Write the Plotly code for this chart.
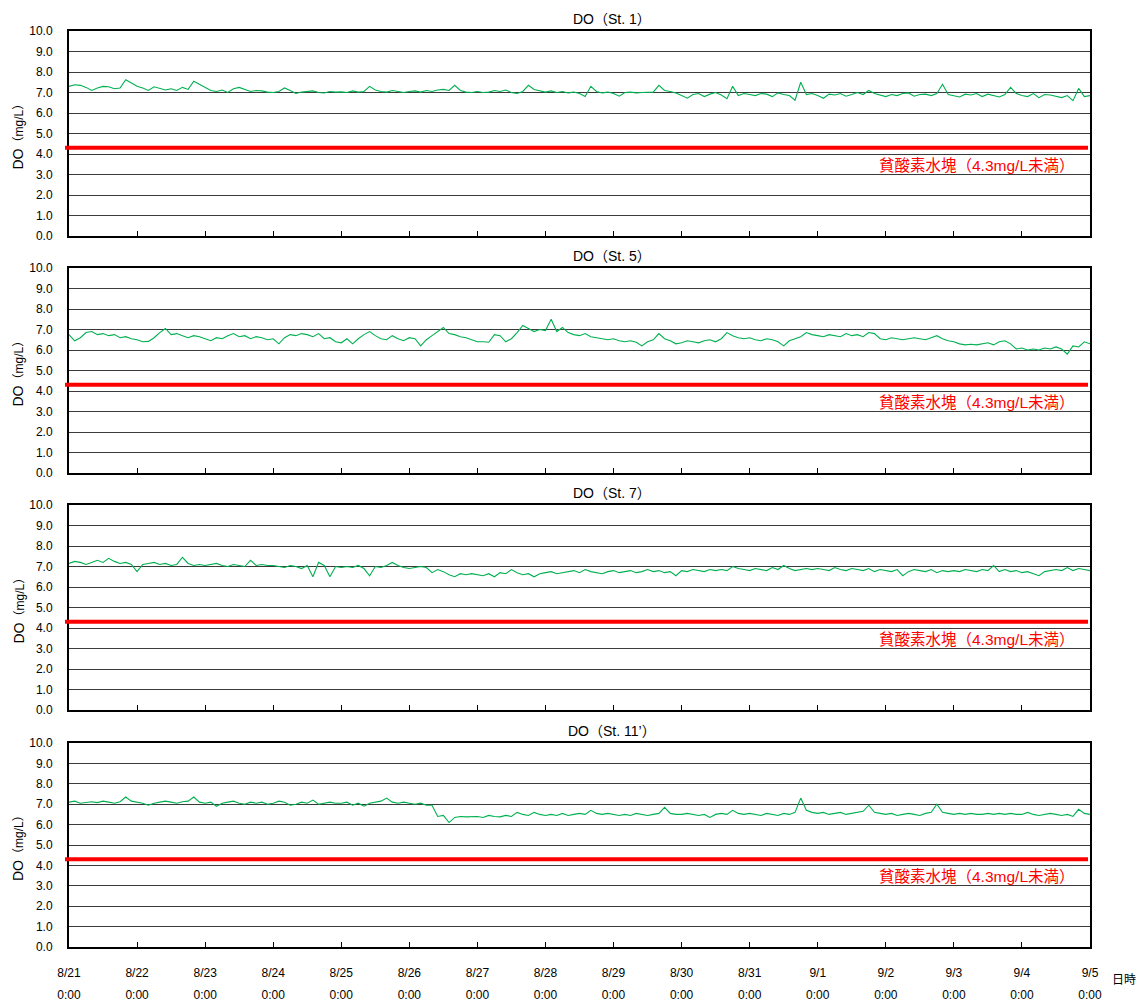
import pandas as pd
import plotly.graph_objects as go

# ---------------- data (2-hourly, 8/21 0:00 -> 9/5 0:00) ----------------
st1 = [
    7.30, 7.38, 7.35, 7.25, 7.10, 7.22, 7.30, 7.28, 7.18, 7.22, 7.62, 7.45,
    7.30, 7.22, 7.10, 7.28, 7.20, 7.12, 7.18, 7.10, 7.25, 7.15, 7.55, 7.40,
    7.25, 7.10, 7.05, 7.12, 7.00, 7.18, 7.25, 7.15, 7.05, 7.10, 7.08, 7.02,
    7.00, 7.05, 7.22, 7.10, 6.95, 7.02, 7.05, 7.08, 7.00, 6.98, 7.05, 7.02,
    7.03, 7.00, 7.08, 7.02, 7.05, 7.30, 7.12, 7.05, 7.02, 7.10, 7.05, 7.00,
    7.05, 7.08, 7.02, 7.10, 7.05, 7.12, 7.15, 7.10, 7.35, 7.10, 7.02, 7.00,
    7.05, 7.00, 7.02, 7.10, 7.05, 7.12, 7.00, 6.95, 7.05, 7.35, 7.15, 7.10,
    7.02, 7.08, 7.00, 7.05, 6.98, 7.02, 6.95, 6.80, 7.30, 7.05, 6.98, 7.02,
    6.95, 6.82, 7.00, 7.02, 6.98, 7.00, 7.00, 7.02, 7.35, 7.10, 7.05, 6.98,
    6.85, 6.72, 6.90, 6.95, 6.80, 6.92, 7.00, 6.88, 6.70, 7.30, 6.85, 6.95,
    6.90, 6.85, 6.95, 6.92, 6.80, 6.98, 6.90, 6.85, 6.62, 7.50, 6.90, 6.95,
    6.85, 6.72, 6.92, 6.88, 6.95, 6.82, 6.90, 7.00, 6.90, 7.10, 6.95, 6.88,
    6.80, 6.90, 6.85, 6.95, 6.98, 6.82, 6.90, 6.92, 6.85, 6.95, 7.40, 6.90,
    6.85, 6.78, 6.92, 6.88, 6.95, 6.80, 6.92, 6.85, 6.78, 6.90, 7.25, 6.95,
    6.85, 6.80, 6.95, 6.75, 6.90, 6.88, 6.80, 6.75, 6.85, 6.60, 7.20, 6.80,
    6.85,
]
st5 = [
    6.75, 6.45, 6.60, 6.85, 6.90, 6.75, 6.80, 6.70, 6.75, 6.60, 6.65, 6.55,
    6.50, 6.40, 6.42, 6.60, 6.85, 7.05, 6.75, 6.80, 6.70, 6.60, 6.70, 6.65,
    6.55, 6.45, 6.60, 6.55, 6.70, 6.80, 6.65, 6.70, 6.55, 6.65, 6.60, 6.50,
    6.55, 6.30, 6.60, 6.75, 6.70, 6.80, 6.75, 6.65, 6.80, 6.55, 6.60, 6.40,
    6.35, 6.55, 6.30, 6.55, 6.75, 6.90, 6.70, 6.55, 6.50, 6.70, 6.55, 6.45,
    6.60, 6.55, 6.20, 6.50, 6.70, 6.90, 7.10, 6.80, 6.75, 6.65, 6.60, 6.50,
    6.40, 6.40, 6.38, 6.75, 6.70, 6.40, 6.55, 6.85, 7.20, 7.05, 6.90, 7.00,
    6.95, 7.50, 6.90, 7.10, 6.85, 6.75, 6.70, 6.80, 6.65, 6.60, 6.55, 6.50,
    6.55, 6.45, 6.40, 6.45, 6.38, 6.20, 6.40, 6.50, 6.80, 6.55, 6.45, 6.30,
    6.35, 6.45, 6.40, 6.35, 6.45, 6.50, 6.40, 6.55, 6.85, 6.70, 6.60, 6.55,
    6.60, 6.50, 6.45, 6.55, 6.50, 6.40, 6.20, 6.45, 6.55, 6.65, 6.85, 6.75,
    6.70, 6.65, 6.75, 6.70, 6.65, 6.80, 6.70, 6.75, 6.65, 6.85, 6.80, 6.55,
    6.50, 6.60, 6.55, 6.50, 6.55, 6.60, 6.55, 6.50, 6.60, 6.70, 6.55, 6.45,
    6.40, 6.30, 6.25, 6.28, 6.25, 6.30, 6.35, 6.25, 6.40, 6.45, 6.30, 6.05,
    6.10, 6.00, 6.05, 6.00, 6.10, 6.05, 6.15, 6.05, 5.80, 6.20, 6.15, 6.40,
    6.30,
]
st7 = [
    7.15, 7.25, 7.20, 7.10, 7.20, 7.30, 7.20, 7.40, 7.25, 7.15, 7.20, 7.10,
    6.75, 7.10, 7.15, 7.20, 7.10, 7.15, 7.05, 7.10, 7.45, 7.15, 7.05, 7.10,
    7.05, 7.10, 7.15, 7.05, 7.00, 7.10, 7.05, 7.00, 7.30, 7.05, 7.10, 7.05,
    7.05, 7.00, 6.95, 7.05, 7.00, 6.90, 7.05, 6.50, 7.20, 7.05, 6.50, 7.00,
    6.95, 7.00, 6.95, 7.05, 6.90, 6.55, 7.00, 6.95, 7.05, 7.20, 7.05, 6.95,
    6.90, 6.95, 7.00, 6.95, 6.70, 6.85, 6.75, 6.60, 6.50, 6.65, 6.60, 6.65,
    6.60, 6.55, 6.65, 6.50, 6.70, 6.65, 6.85, 6.70, 6.60, 6.65, 6.50, 6.65,
    6.70, 6.75, 6.65, 6.70, 6.75, 6.80, 6.70, 6.85, 6.75, 6.70, 6.65, 6.75,
    6.80, 6.70, 6.75, 6.80, 6.70, 6.75, 6.85, 6.75, 6.80, 6.70, 6.75, 6.55,
    6.80, 6.75, 6.85, 6.80, 6.75, 6.85, 6.80, 6.85, 6.80, 7.00, 6.90, 6.85,
    6.80, 6.90, 6.85, 6.80, 6.95, 6.85, 7.05, 6.90, 6.80, 6.85, 6.90, 6.85,
    6.90, 6.85, 6.80, 6.95, 6.85, 6.80, 6.90, 6.85, 6.80, 6.90, 6.75, 6.85,
    6.80, 6.75, 6.85, 6.55, 6.75, 6.85, 6.80, 6.75, 6.85, 6.70, 6.80, 6.75,
    6.80, 6.75, 6.85, 6.80, 6.75, 6.85, 6.80, 7.05, 6.75, 6.85, 6.75, 6.80,
    6.70, 6.75, 6.65, 6.55, 6.75, 6.80, 6.85, 6.80, 6.95, 6.80, 6.90, 6.85,
    6.80,
]
st11 = [
    7.10, 7.15, 7.05, 7.10, 7.12, 7.08, 7.15, 7.10, 7.05, 7.12, 7.35, 7.15,
    7.10, 7.05, 6.95, 7.05, 7.10, 7.15, 7.10, 7.05, 7.12, 7.15, 7.35, 7.10,
    7.05, 7.10, 6.90, 7.05, 7.10, 7.15, 7.05, 7.00, 7.10, 7.05, 7.10, 7.00,
    7.05, 7.15, 7.10, 6.95, 7.00, 7.10, 7.05, 7.20, 7.00, 7.05, 7.10, 7.05,
    7.05, 7.10, 6.95, 7.05, 6.90, 7.05, 7.10, 7.15, 7.30, 7.10, 7.05, 7.10,
    7.05, 7.00, 7.05, 6.95, 6.95, 6.40, 6.45, 6.10, 6.35, 6.40, 6.38, 6.40,
    6.40, 6.35, 6.45, 6.40, 6.38, 6.45, 6.40, 6.60, 6.50, 6.45, 6.60, 6.50,
    6.45, 6.50, 6.45, 6.55, 6.45, 6.50, 6.55, 6.50, 6.70, 6.55, 6.50, 6.55,
    6.50, 6.45, 6.50, 6.45, 6.55, 6.50, 6.45, 6.50, 6.55, 6.85, 6.55, 6.50,
    6.50, 6.55, 6.50, 6.45, 6.50, 6.35, 6.50, 6.55, 6.50, 6.70, 6.55, 6.50,
    6.55, 6.50, 6.45, 6.55, 6.50, 6.45, 6.55, 6.50, 6.60, 7.30, 6.70, 6.60,
    6.55, 6.60, 6.50, 6.55, 6.60, 6.50, 6.55, 6.60, 6.65, 6.95, 6.60, 6.55,
    6.50, 6.55, 6.45, 6.50, 6.55, 6.50, 6.45, 6.55, 6.60, 7.00, 6.60, 6.55,
    6.50, 6.55, 6.50, 6.55, 6.50, 6.50, 6.55, 6.50, 6.55, 6.50, 6.55, 6.50,
    6.50, 6.60, 6.50, 6.45, 6.50, 6.55, 6.50, 6.45, 6.50, 6.40, 6.75, 6.55,
    6.50,
]
series = [st1, st5, st7, st11]
titles = ["DO（St. 1）", "DO（St. 5）", "DO（St. 7）", "DO（St. 11’）"]
threshold = 4.3
threshold_label = "貧酸素水塊（4.3mg/L未満）"
y_title = "DO<span style='font-size:12px'>（mg/L）</span>"
day_labels = ["8/21", "8/22", "8/23", "8/24", "8/25", "8/26", "8/27", "8/28",
              "8/29", "8/30", "8/31", "9/1", "9/2", "9/3", "9/4", "9/5"]
time_label = "0:00"
x_axis_label = "日時"

times = pd.date_range("2023-08-21 00:00", "2023-09-05 00:00", freq="2h")
days = pd.date_range("2023-08-21", "2023-09-05", freq="D")

# ---------------- layout geometry ----------------
W, H = 1137, 1001
FONT = "Liberation Sans, Arial, Noto Sans CJK JP, sans-serif"
x_left, x_right = 69 / W, 1090 / W
panels_px = [(31, 236), (268, 473), (505, 710), (743, 947)]

fig = go.Figure()
for i, (vals, (top, bot)) in enumerate(zip(series, panels_px)):
    n = i + 1
    xa = "x" if n == 1 else f"x{n}"
    ya = "y" if n == 1 else f"y{n}"
    fig.add_trace(go.Scatter(x=times, y=vals, mode="lines",
                             line=dict(color="#00b050", width=1.1),
                             xaxis=xa, yaxis=ya, showlegend=False,
                             hoverinfo="skip"))
    y0, y1 = 1 - bot / H, 1 - top / H
    last = n == 4
    fig.layout[f"xaxis{n}" if n > 1 else "xaxis"] = dict(
        domain=[x_left, x_right], anchor=ya, automargin=False,
        range=[times[0], times[-1]], type="date",
        tickvals=list(days), ticktext=day_labels if last else [""] * len(days),
        showticklabels=last, ticks="inside", ticklen=5, tickcolor="#000",
        tickwidth=1, showgrid=False, zeroline=False,
        showline=True, linecolor="#000", linewidth=1.5, mirror=True,
        ticklabelstandoff=14, tickfont=dict(size=12, color="#000", family=FONT),
    )
    fig.layout[f"yaxis{n}" if n > 1 else "yaxis"] = dict(
        domain=[y0, y1], anchor=xa, range=[0, 10], tickmode="linear",
        automargin=False,
        tick0=0, dtick=1, tickformat=".1f", showgrid=True,
        gridcolor="#3a3a3a", gridwidth=1, zeroline=False, ticks="",
        showline=True, linecolor="#000", linewidth=2, mirror=True,
        ticklabelstandoff=12, tickfont=dict(size=12, color="#000", family=FONT),
    )
    # threshold line
    fig.add_shape(type="line", xref="paper", yref=ya, x0=65 / W, x1=1088 / W,
                  y0=threshold, y1=threshold,
                  line=dict(color="#ff0000", width=4), layer="above")
    fig.add_annotation(xref="paper", yref=ya, x=1077 / W, y=3.45,
                       text=threshold_label, showarrow=False, xanchor="right",
                       yanchor="middle",
                       font=dict(size=15.5, color="#ff0000", family=FONT))
    # title
    fig.add_annotation(xref="paper", yref="paper", x=612 / W, y=1 - (top - 12) / H,
                       text=titles[i], showarrow=False, xanchor="center",
                       yanchor="middle",
                       font=dict(size=14, color="#000", family=FONT))
    # y-axis title
    fig.add_annotation(xref="paper", yref="paper", x=18 / W,
                       y=1 - ((top + bot) / 2) / H, text=y_title,
                       textangle=-90, showarrow=False, xanchor="center",
                       yanchor="middle",
                       font=dict(size=14, color="#000", family=FONT))

# second row of bottom tick labels ("0:00")
fig.layout["xaxis5"] = dict(
    overlaying="x4", anchor="y4", side="bottom", domain=[x_left, x_right],
    automargin=False,
    range=[times[0], times[-1]], type="date",
    tickvals=list(days), ticktext=[time_label] * len(days),
    ticks="", showgrid=False, zeroline=False, showline=False,
    ticklabelstandoff=39, tickfont=dict(size=12, color="#000", family=FONT),
)
fig.add_trace(go.Scatter(x=[times[0]], y=[None], xaxis="x5", yaxis="y4",
                         showlegend=False, hoverinfo="skip"))

fig.add_annotation(xref="paper", yref="paper", x=1124 / W, y=1 - 980 / H,
                   text=x_axis_label, showarrow=False, xanchor="center",
                   yanchor="middle", font=dict(size=12, color="#000", family=FONT))

fig.update_layout(width=W, height=H, margin=dict(l=0, r=0, t=0, b=0),
                  paper_bgcolor="#fff", plot_bgcolor="#fff",
                  font=dict(family=FONT, color="#000"))
fig.write_html("out.html")
